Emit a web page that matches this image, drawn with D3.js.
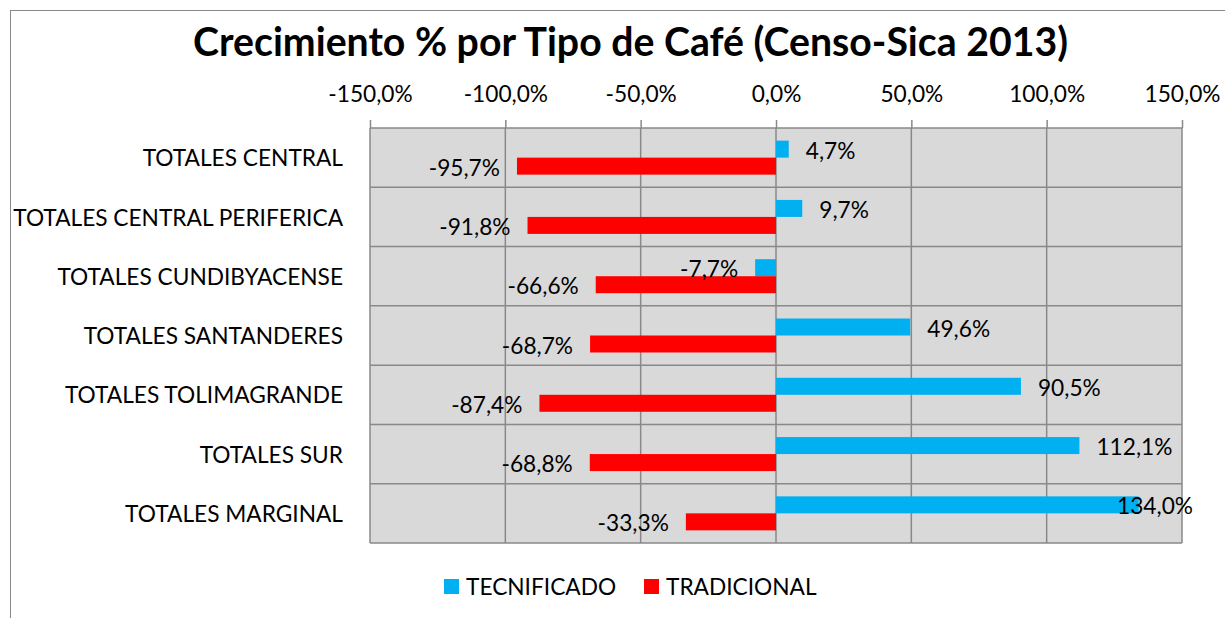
<!DOCTYPE html>
<html><head><meta charset="utf-8">
<script src="https://cdn.jsdelivr.net/npm/d3@7"></script>
<style>
html,body{margin:0;padding:0;background:#fff;}
svg{display:block;}
text{font-family:Lato,"Noto Sans",sans-serif;fill:#000;}
</style></head>
<body>
<svg id="chart" width="1225" height="618"></svg>
<script>
const categories = ["TOTALES CENTRAL","TOTALES CENTRAL PERIFERICA","TOTALES CUNDIBYACENSE","TOTALES SANTANDERES","TOTALES TOLIMAGRANDE","TOTALES SUR","TOTALES MARGINAL"];
const seriesNames = ["TECNIFICADO","TRADICIONAL"];
const tecnificado = [0.047, 0.097, -0.077, 0.496, 0.905, 1.121, 1.340];
const tradicional = [-0.957, -0.918, -0.666, -0.687, -0.874, -0.688, -0.333];
const tickValues = [-1.5, -1.0, -0.5, 0, 0.5, 1.0, 1.5];
const title = "Crecimiento % por Tipo de Café (Censo-Sica 2013)";
const colors = {TECNIFICADO:"#00B0F0", TRADICIONAL:"#FF0000"};

const locale = d3.formatLocale({decimal:",", thousands:".", grouping:[3], currency:["$",""], minus:"-", percent:"%"});
const fmt = locale.format(".1%");

const svg = d3.select("#chart");
const plot = {left:370, right:1182, top:128, bottom:543};

// font fitting helper (Calibri substitute)
function fitSize(str, weight, target){
  const t = svg.append("text").attr("font-size",20).attr("font-weight",weight).text(str);
  const w = t.node().getComputedTextLength(); t.remove();
  return 20*target/w;
}
const fs = fitSize("TOTALES CENTRAL PERIFERICA", "normal", 330);
const fsTitle = fitSize(title, "bold", 875);

// chart border
svg.append("rect").attr("x",10.5).attr("y",10.5).attr("width",1400).attr("height",800)
  .attr("fill","none").attr("stroke","#898989").attr("stroke-width",1);

// title
svg.append("text").attr("x",630.5).attr("y",56).attr("text-anchor","middle")
  .attr("font-weight","bold").attr("font-size",fsTitle).text(title);

const x = d3.scaleLinear().domain([-1.5,1.5]).range([plot.left, plot.right]);
const y = d3.scaleBand().domain(categories).range([plot.top, plot.bottom]).padding(0);
const ySub = d3.scaleBand().domain(seriesNames).range([0, y.bandwidth()]).paddingInner(0).paddingOuter(0.744);

// plot background
svg.append("rect").attr("x",plot.left).attr("y",plot.top).attr("width",plot.right-plot.left)
  .attr("height",plot.bottom-plot.top).attr("fill","#D9D9D9");

const gridColor = "#898989";
// vertical gridlines
svg.append("g").selectAll("line").data(tickValues).join("line")
  .attr("x1",d=>x(d)).attr("x2",d=>x(d)).attr("y1",plot.top).attr("y2",plot.bottom)
  .attr("stroke",gridColor).attr("stroke-width",1.5);
// horizontal gridlines at band edges
const edges = categories.map(c=>y(c)).concat([plot.bottom]);
svg.append("g").selectAll("line").data(edges).join("line")
  .attr("x1",plot.left).attr("x2",plot.right).attr("y1",d=>d).attr("y2",d=>d)
  .attr("stroke",gridColor).attr("stroke-width",1.5);

// top axis
const axis = d3.axisTop(x).tickValues(tickValues).tickFormat(fmt).tickSize(8).tickPadding(18);
const gAxis = svg.append("g").attr("transform",`translate(0,${plot.top})`).call(axis);
gAxis.select(".domain").remove();
gAxis.selectAll(".tick line").attr("stroke",gridColor).attr("stroke-width",1.5);
gAxis.selectAll(".tick text").attr("font-size",fs).attr("font-family","Lato,'Noto Sans',sans-serif").attr("fill","#000");

// category labels
svg.append("g").selectAll("text").data(categories).join("text")
  .attr("x",343).attr("y",d=>y(d)+y.bandwidth()/2).attr("dy","0.38em")
  .attr("text-anchor","end").attr("font-size",fs).text(d=>d);

// bars
const rows = categories.map((c,i)=>({cat:c, TECNIFICADO:tecnificado[i], TRADICIONAL:tradicional[i]}));
const flat = [];
rows.forEach(r=>seriesNames.forEach(s=>flat.push({cat:r.cat, s, v:r[s]})));

svg.append("g").selectAll("rect").data(flat).join("rect")
  .attr("x",d=>Math.min(x(0),x(d.v))).attr("width",d=>Math.abs(x(d.v)-x(0)))
  .attr("y",d=>y(d.cat)+ySub(d.s)).attr("height",ySub.bandwidth())
  .attr("fill",d=>colors[d.s]);

// value labels
const gap = 17;
const maxRight = plot.right + 11;
const labels = svg.append("g").selectAll("text").data(flat).join("text")
  .attr("y",d=>y(d.cat)+ySub(d.s)+ySub.bandwidth()/2).attr("dy","0.42em")
  .attr("font-size",fs).text(d=>fmt(d.v));
labels.each(function(d){
  const t = d3.select(this);
  const w = this.getComputedTextLength();
  if(d.v >= 0){
    let xs = x(d.v)+gap;
    if(xs + w > maxRight) xs = maxRight - w;
    t.attr("x",xs).attr("text-anchor","start");
  } else {
    t.attr("x",x(d.v)-gap).attr("text-anchor","end");
  }
});

// legend
const legend = svg.append("g");
const legendX = [444, 644];
seriesNames.forEach((s,i)=>{
  legend.append("rect").attr("x",legendX[i]).attr("y",579).attr("width",15).attr("height",15).attr("fill",colors[s]);
  legend.append("text").attr("x",legendX[i]+22).attr("y",586.5).attr("dy","0.38em").attr("font-size",fs).text(s);
});
</script>
</body></html>
